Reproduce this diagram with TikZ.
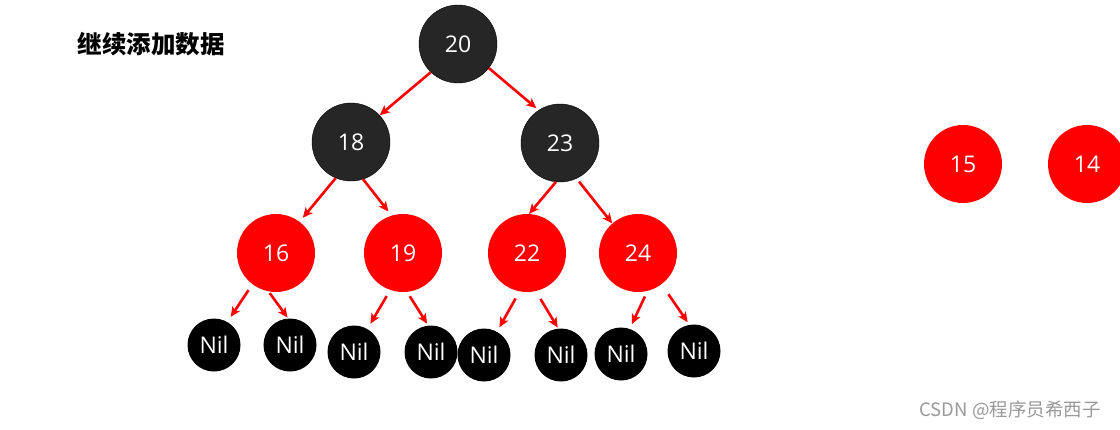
\documentclass[tikz,border=0pt]{standalone}
\usepackage{fontspec}
\setmainfont{Open Sans}
\newfontfamily\cjk{Noto Sans CJK SC}
\usetikzlibrary{arrows.meta}
\definecolor{nodegray}{RGB}{38,38,38}

\begin{document}
\begin{tikzpicture}[x=1pt, y=-1pt,
    blk/.style={circle, draw=black, fill=nodegray, minimum size=78pt, inner sep=0pt, text=white, font=\fontsize{23}{23}\selectfont},
    rd/.style={circle, fill=red, minimum size=78pt, inner sep=0pt, text=white, font=\fontsize{23}{23}\selectfont},
    nil/.style={circle, fill=black, minimum size=53pt, inner sep=0pt, text=white, font=\fontsize{23}{23}\selectfont},
    edge/.style={red, line width=2.6pt, -{Stealth[length=10pt, width=9pt, inset=2.5pt]}}]
      \useasboundingbox (0,0) rectangle (1120,429);
      % Title:
      \node[anchor=west, font=\cjk\bfseries\fontsize{24.5}{24.5}\selectfont] (title) at (74,44) {继续添加数据};
      % Tree:
      \node[blk] (n20) at (458,44) {20};
      \node[blk] (n18) at (351,142) {18};
      \node[blk] (n23) at (560,143) {23};
      \node[rd] (n16) at (276,253) {16};
      \node[rd] (n19) at (403,253) {19};
      \node[rd] (n22) at (527,253) {22};
      \node[rd] (n24) at (638,253) {24};
      \foreach \i/\x/\y in {1/214/345, 2/290/345, 3/354/352, 4/431/352, 5/484/355, 6/561/355, 7/621/354, 8/694/351}
        \node[nil] (nil\i) at (\x,\y) {Nil};
      % Nodes still to add:
      \node[rd] (n15) at (963,164) {15};
      \node[rd] (n14) at (1087,164) {14};
      % Arrows:
      \foreach \a/\p/\b/\q/\s/\t in {n20/226/n18/43/0/0, n20/322/n23/123/0/3, n18/247/n16/53/0/5, n18/288/n19/107/0/5,
          n23/264/n22/87/0/0, n23/295/n24/131/4/0,
          n16/233/nil1/60/7/6, n16/259/nil2/94/2/1, n19/251/nil3/60/7/6, n19/276/nil4/96/5/2,
          n22/259/nil5/61/8/5, n22/283/nil6/96/9/1, n24/284/nil7/71/6/5, n24/307/nil8/100/12/3}
        \draw[edge, shorten <=\s pt, shorten >=\t pt] (\a.\p) -- (\b.\q);
      % Watermark:
      \node[text=gray!80, font=\cjk\fontsize{18.5}{18.5}\selectfont] (mark) at (1010,410) {CSDN @程序员希西子};
    \end{tikzpicture}
\end{document}
